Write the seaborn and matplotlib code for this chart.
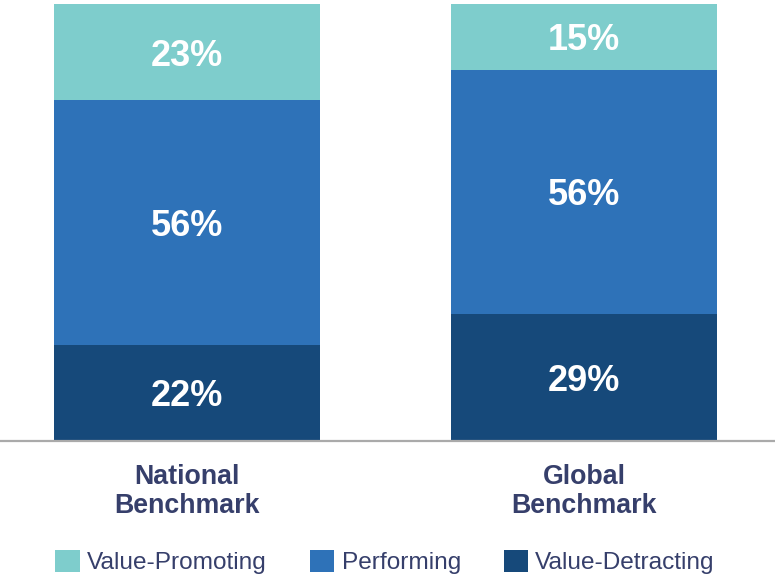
import matplotlib
matplotlib.use("Agg")
import matplotlib.pyplot as plt
import seaborn as sns
import numpy as np
import pandas as pd
from matplotlib.patches import Patch

categories = ["National\nBenchmark", "Global\nBenchmark"]
value_detracting = [22, 29]
performing = [56, 56]
value_promoting = [23, 15]
series_names = ["Value-Promoting", "Performing", "Value-Detracting"]

colors = {"Value-Promoting": "#7ECDCC", "Performing": "#2E72B8", "Value-Detracting": "#16497A"}
text_color = "#363F6B"

sns.set_theme(style="white")
plt.rcParams["font.family"] = ["Liberation Sans", "DejaVu Sans"]

fig = plt.figure(figsize=(7.75, 5.76), dpi=100)
ax = fig.add_axes([0.0, 135 / 576, 1.0, 437 / 576])

det = np.array(value_detracting, dtype=float)
perf = np.array(performing, dtype=float)
prom = np.array(value_promoting, dtype=float)
cum1 = det
cum2 = det + perf
cum3 = det + perf + prom

df = pd.DataFrame({"cat": categories, "c1": cum1, "c2": cum2, "c3": cum3})

bw = 0.67
sns.barplot(data=df, x="cat", y="c3", color=colors["Value-Promoting"], saturation=1,
            width=bw, errorbar=None, ax=ax, linewidth=0)
sns.barplot(data=df, x="cat", y="c2", color=colors["Performing"], saturation=1,
            width=bw, errorbar=None, ax=ax, linewidth=0)
sns.barplot(data=df, x="cat", y="c1", color=colors["Value-Detracting"], saturation=1,
            width=bw, errorbar=None, ax=ax, linewidth=0)

ymax = 100
ax.set_ylim(0, ymax)
ax.set_xlim(-0.471, 1.481)

for i in range(len(categories)):
    segs = [(0, cum1[i], det[i]), (cum1[i], cum2[i], perf[i]), (cum2[i], min(cum3[i], ymax), prom[i])]
    for lo, hi, v in segs:
        ax.text(i, (lo + hi) / 2, f"{int(v)}%", ha="center", va="center_baseline",
                color="white", fontsize=26, fontweight="bold")

for s in ["top", "right", "left"]:
    ax.spines[s].set_visible(False)
ax.spines["bottom"].set_color("#AAAAAA")
ax.spines["bottom"].set_linewidth(1.6)
ax.set_yticks([])
ax.set_xlabel("")
ax.set_ylabel("")
ax.tick_params(axis="x", length=0, pad=16.5)
ax.set_xticks(range(len(categories)))
ax.set_xticklabels(categories, fontsize=19.3, fontweight="bold", color=text_color, linespacing=1.13)

handles = [Patch(facecolor=colors[n], edgecolor="none") for n in series_names]
fig.legend(handles, series_names, loc="lower center", bbox_to_anchor=(0.497, -0.022),
           ncol=3, frameon=False, fontsize=17.6, handlelength=1.0, handleheight=1.0,
           handletextpad=0.3, columnspacing=1.75, borderpad=0.1, labelcolor=text_color)

fig.savefig("out.png", dpi=100)
